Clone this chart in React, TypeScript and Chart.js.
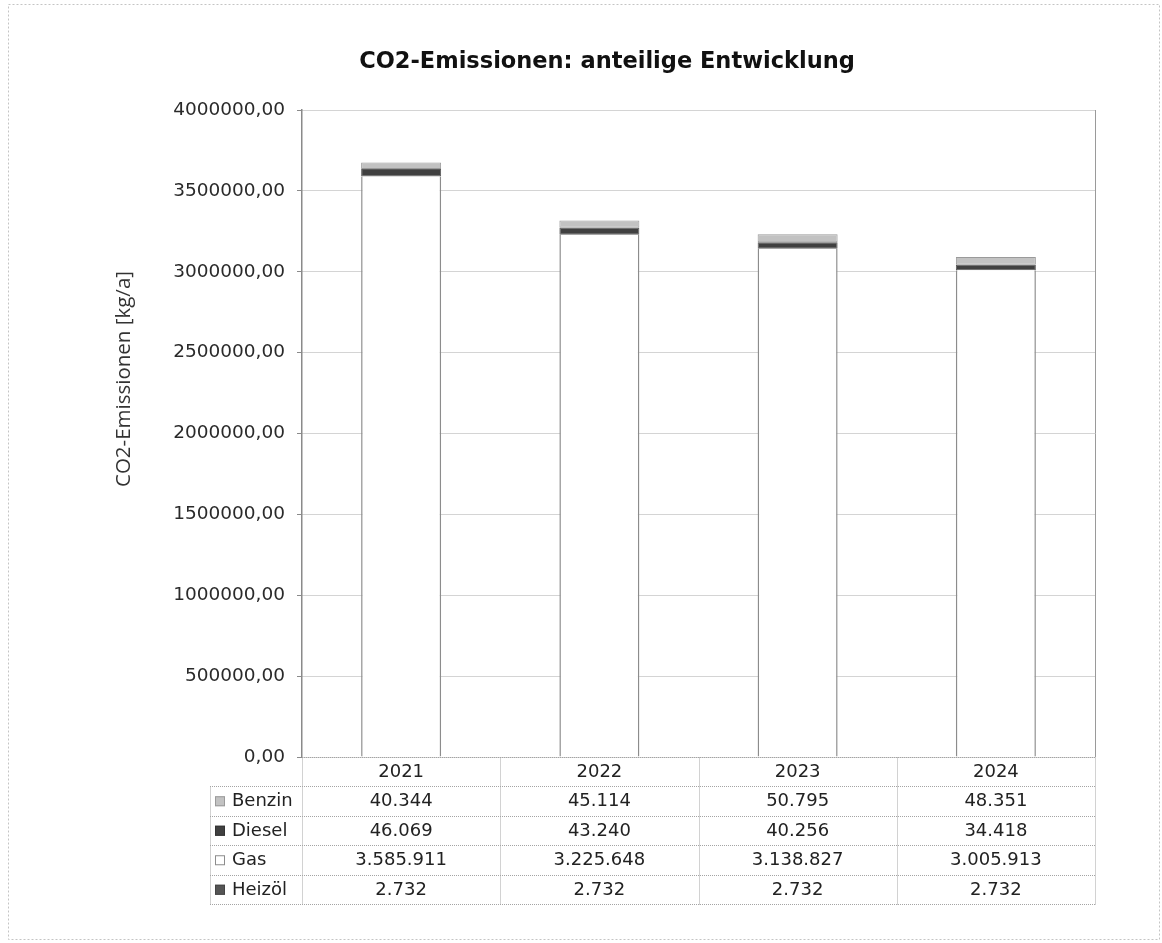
import React, { useEffect, useRef } from "react";
import { Chart, registerables } from "chart.js";

Chart.register(...registerables);

const categories = ["2021", "2022", "2023", "2024"];
const benzin = [40344, 45114, 50795, 48351];
const diesel = [46069, 43240, 40256, 34418];
const gas = [3585911, 3225648, 3138827, 3005913];
const heizoel = [2732, 2732, 2732, 2732];
const yMax = 4000000;
const yStep = 500000;

const chartTitle = "CO2-Emissionen: anteilige Entwicklung";
const yTitle = "CO2-Emissionen [kg/a]";

const FONT = "'DejaVu Sans', Verdana, sans-serif";

const fmtThousands = (v: number) =>
  String(Math.round(v)).replace(/\B(?=(\d{3})+(?!\d))/g, ".");
const fmtTick = (v: number) => v.toFixed(2).replace(".", ",");

const seriesStyle = {
  Benzin: { fill: "#c2c2c2", stroke: "#9a9a9a" },
  Diesel: { fill: "#404040", stroke: "#333333" },
  Gas: { fill: "#ffffff", stroke: "#8c8c8c" },
  Heizöl: { fill: "#555555", stroke: "#444444" },
};

const tableRows = [
  { label: "Benzin", data: benzin },
  { label: "Diesel", data: diesel },
  { label: "Gas", data: gas },
  { label: "Heizöl", data: heizoel },
];

const framePlugin = {
  id: "frameAndTable",
  beforeDraw(chart: any) {
    const { ctx } = chart;
    ctx.save();
    ctx.fillStyle = "#ffffff";
    ctx.fillRect(0, 0, chart.width, chart.height);
    ctx.strokeStyle = "#c4c4c4";
    ctx.lineWidth = 1;
    ctx.setLineDash([2, 2]);
    ctx.strokeRect(8.5, 4.5, chart.width - 11, chart.height - 8);
    ctx.restore();
  },
  afterDraw(chart: any) {
    const { ctx, chartArea: ca } = chart;
    const xs = chart.scales.x;
    const n = categories.length;
    const colW = (ca.right - ca.left) / n;
    const labelLeft = ca.left - 92;
    const top = ca.bottom;
    const headerH = 29;
    const rowH = 29.5;
    const tableBottom = top + headerH + rowH * tableRows.length;

    ctx.save();
    // plot right border
    ctx.strokeStyle = "#9a9a9a";
    ctx.lineWidth = 1;
    ctx.beginPath();
    ctx.moveTo(Math.round(ca.right) + 0.5, ca.top);
    ctx.lineTo(Math.round(ca.right) + 0.5, ca.bottom);
    ctx.stroke();

    // table grid
    ctx.strokeStyle = "#a4a4a4";
    ctx.lineWidth = 1;
    ctx.setLineDash([1, 1]);
    ctx.beginPath();
    const hy = (y: number) => Math.round(y) + 0.5;
    ctx.moveTo(ca.left, hy(top));
    ctx.lineTo(ca.right, hy(top));
    for (let r = 0; r <= tableRows.length; r++) {
      const y = hy(top + headerH + r * rowH);
      ctx.moveTo(labelLeft, y);
      ctx.lineTo(ca.right, y);
    }
    ctx.moveTo(hy(labelLeft), hy(top + headerH));
    ctx.lineTo(hy(labelLeft), hy(tableBottom));
    for (let i = 0; i <= n; i++) {
      const x = hy(ca.left + i * colW);
      ctx.moveTo(x, hy(top));
      ctx.lineTo(x, hy(tableBottom));
    }
    ctx.stroke();
    ctx.setLineDash([]);

    // header text
    ctx.fillStyle = "#222";
    ctx.font = `18px ${FONT}`;
    ctx.textAlign = "center";
    ctx.textBaseline = "middle";
    categories.forEach((c, i) => {
      ctx.fillText(c, xs.getPixelForValue(i), top + headerH / 2 + 1);
    });

    tableRows.forEach((row, r) => {
      const cy = top + headerH + r * rowH + rowH / 2 + 1;
      const st = (seriesStyle as any)[row.label];
      ctx.fillStyle = st.fill;
      ctx.strokeStyle = st.stroke;
      ctx.fillRect(labelLeft + 5, cy - 5.5, 10, 10);
      ctx.strokeRect(labelLeft + 5.5, cy - 5, 9, 9);
      ctx.fillStyle = "#222";
      ctx.textAlign = "left";
      ctx.fillText(row.label, labelLeft + 22, cy);
      ctx.textAlign = "center";
      row.data.forEach((v, i) => {
        ctx.fillText(fmtThousands(v), xs.getPixelForValue(i), cy);
      });
    });

    // y axis title
    ctx.save();
    ctx.translate(ca.left - 178, ca.top + 269);
    ctx.rotate(-Math.PI / 2);
    ctx.fillStyle = "#333";
    ctx.font = `20.5px 'Open Sans', sans-serif`;
    ctx.textAlign = "center";
    ctx.textBaseline = "middle";
    ctx.fillText(yTitle, 0, 0);
    ctx.restore();

    ctx.restore();
  },
};

export default function App() {
  const canvasRef = useRef<HTMLCanvasElement | null>(null);

  useEffect(() => {
    if (!canvasRef.current) return;
    const barPct = 0.4035;
    const chart = new Chart(canvasRef.current, {
      type: "bar",
      data: {
        labels: categories,
        datasets: [
          {
            label: "Heizöl",
            data: heizoel,
            backgroundColor: seriesStyle["Heizöl"].fill,
            borderColor: seriesStyle["Heizöl"].stroke,
            borderWidth: 0,
            barPercentage: barPct,
            categoryPercentage: 1,
          },
          {
            label: "Gas",
            data: gas,
            backgroundColor: seriesStyle.Gas.fill,
            borderColor: seriesStyle.Gas.stroke,
            borderWidth: { left: 1.5, right: 1.5, top: 0, bottom: 0 },
            borderSkipped: false,
            barPercentage: barPct,
            categoryPercentage: 1,
          },
          {
            label: "Diesel",
            data: diesel,
            backgroundColor: seriesStyle.Diesel.fill,
            borderColor: "#5a5a5a",
            borderWidth: 1,
            borderSkipped: false,
            barPercentage: barPct,
            categoryPercentage: 1,
          },
          {
            label: "Benzin",
            data: benzin,
            backgroundColor: seriesStyle.Benzin.fill,
            borderColor: seriesStyle.Benzin.stroke,
            borderWidth: 1,
            borderSkipped: false,
            barPercentage: barPct,
            categoryPercentage: 1,
          },
        ],
      },
      options: {
        responsive: false,
        animation: false,
        devicePixelRatio: 1,
        layout: { padding: { left: 119, right: 67, top: 0, bottom: 186 } },
        plugins: {
          legend: { display: false },
          tooltip: { enabled: false },
          title: {
            display: true,
            text: chartTitle,
            color: "#111",
            font: { family: FONT, size: 22.5, weight: "bold" },
            padding: { top: 48.5, bottom: 34.5 },
          },
        },
        scales: {
          x: {
            stacked: true,
            display: false,
          },
          y: {
            stacked: true,
            min: 0,
            max: yMax,
            afterFit: (scale: any) => {
              scale.width = 183;
            },
            ticks: {
              stepSize: yStep,
              padding: 12,
              color: "#2a2a2a",
              font: { family: FONT, size: 18.5 },
              callback: (v: any) => fmtTick(Number(v)),
            },
            grid: {
              color: "#a8a8a8",
              tickColor: "#8a8a8a",
              tickLength: 5,
              lineWidth: 1,
            },
            border: { display: true, color: "#8a8a8a", width: 1.5, dash: [1, 1] },
          },
        },
      },
      plugins: [framePlugin],
    } as any);
    return () => chart.destroy();
  }, []);

  return (
    <div style={{ position: "absolute", left: 0, top: 0, width: 1162, height: 943 }}>
      <canvas ref={canvasRef} width={1162} height={943} style={{ display: "block" }} />
    </div>
  );
}
